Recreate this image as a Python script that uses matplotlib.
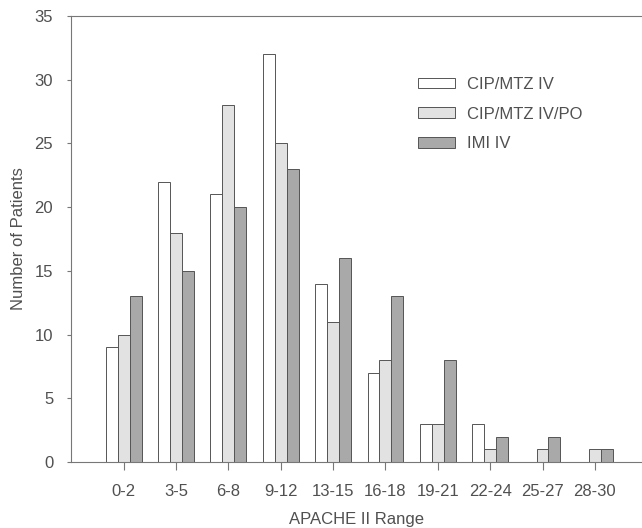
import numpy as np
import matplotlib
matplotlib.use("Agg")
import matplotlib.pyplot as plt

plt.rcParams['font.family'] = ['Liberation Sans', 'DejaVu Sans']

ranges = ["0-2", "3-5", "6-8", "9-12", "13-15", "16-18", "19-21", "22-24", "25-27", "28-30"]
cip_iv = [9, 22, 21, 32, 14, 7, 3, 3, 0, 0]
cip_iv_po = [10, 18, 28, 25, 11, 8, 3, 1, 1, 1]
imi_iv = [13, 15, 20, 23, 16, 13, 8, 2, 2, 1]
series_names = ["CIP/MTZ IV", "CIP/MTZ IV/PO", "IMI IV"]

txt = '#505050'
fs = 12
fig = plt.figure(figsize=(6.42, 5.28), dpi=100)
ax = fig.add_axes([0.111, 0.125, 0.889, 0.845])

x = np.arange(len(ranges))
w = 0.228
colors = ['white', '#e2e2e2', '#a9a9a9']
for i, (vals, name) in enumerate(zip([cip_iv, cip_iv_po, imi_iv], series_names)):
    ax.bar(x + (i - 1) * w, vals, w, color=colors[i], edgecolor='#555555',
           linewidth=0.7, label=name)

ax.set_xlim(-1, 9.9)
ax.set_ylim(0, 35)
ax.set_yticks(range(0, 36, 5))
ax.set_xticks(x)
ax.set_xticklabels(ranges)
for s in ['top', 'left', 'bottom']:
    ax.spines[s].set_color('#777777')
    ax.spines[s].set_linewidth(0.8)
ax.spines['right'].set_visible(False)
ax.tick_params(axis='both', colors='#777777', labelcolor=txt, labelsize=fs)
ax.tick_params(axis='x', length=6, pad=10)
ax.tick_params(axis='y', length=3, pad=10)

ax.set_ylabel("Number of Patients", color=txt, fontsize=fs, labelpad=6)
ax.set_xlabel("APACHE II Range", color=txt, fontsize=fs, labelpad=9)

leg = ax.legend(loc='upper left', bbox_to_anchor=(0.608, 0.863), frameon=False,
                fontsize=fs, handlelength=2.2, handleheight=0.6,
                labelspacing=0.88, handletextpad=0.7, borderpad=0,
                borderaxespad=0)
for t in leg.get_texts():
    t.set_color(txt)

fig.savefig("out.png", dpi=100)
